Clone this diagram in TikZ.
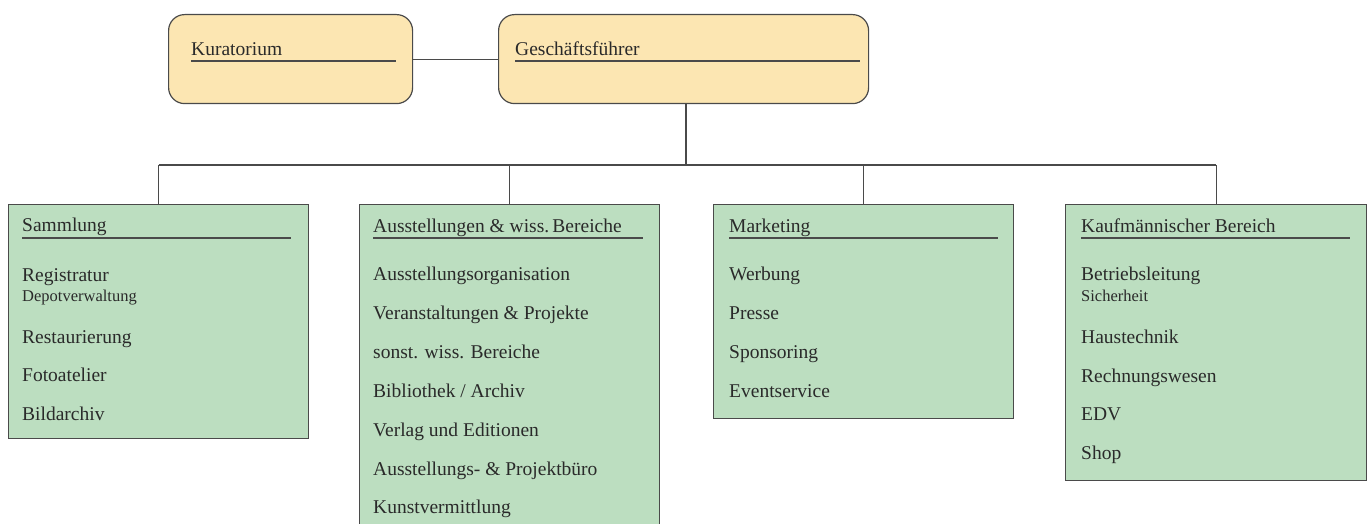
\documentclass[tikz,border=0pt]{standalone}
\usepackage{fontspec}
\setmainfont{Liberation Serif}
\definecolor{yfill}{HTML}{FCE6B2}
\definecolor{gfill}{HTML}{BCDEC0}
\definecolor{linec}{HTML}{4A4A4A}
\definecolor{textc}{HTML}{2A2A2A}
\begin{document}
\begin{tikzpicture}[x=1pt,y=-1pt,
  txt/.style={anchor=base west, inner sep=0pt, text=textc, font=\fontsize{19.5}{22}\selectfont},
  smalltxt/.style={txt, font=\fontsize{16.5}{18}\selectfont},
  ybox/.style={draw=linec, line width=1.2pt, fill=yfill, rounded corners=16pt, anchor=north west, inner sep=0pt},
  gbox/.style={draw=linec, line width=1.2pt, fill=gfill, anchor=north west, inner sep=0pt},
  conn/.style={draw=linec, line width=1.1pt},
  uline/.style={draw=linec, line width=1.1pt}]
\useasboundingbox (0,0) rectangle (1368,524);
% top boxes
\node[ybox, minimum width=244pt, minimum height=89pt] (kur) at (168,14) {};
\node[ybox, minimum width=370pt, minimum height=89pt] (gf) at (498,14) {};
\node[txt] (kurt) at (191,56) {Kuratorium};
\node[txt] (gft) at (515,56) {Geschäftsführer};
\draw[uline] (191,61) -- (396,61);
\draw[uline] (515,61) -- (860,61);
% department boxes
\node[gbox, minimum width=300pt, minimum height=234pt] (b1) at (8,204) {};
\node[gbox, minimum width=300pt, minimum height=340pt] (b2) at (359,204) {};
\node[gbox, minimum width=300pt, minimum height=214pt] (b3) at (713,204) {};
\node[gbox, minimum width=301pt, minimum height=276pt] (b4) at (1065,204) {};
% connectors
\coordinate (bus) at (686,165);
\draw[conn] (kur.east) -- (gf.west);
\draw[conn] (gf.south -| bus) -- (bus);
\draw[conn] (b1.north |- bus) -- (b4.north |- bus);
\draw[conn] (b1.north |- bus) -- (b1.north);
\draw[conn] (b2.north |- bus) -- (b2.north);
\draw[conn] (b3.north |- bus) -- (b3.north);
\draw[conn] (b4.north |- bus) -- (b4.north);
% Sammlung
\node[txt] (t1) at (22,231) {Sammlung};
\draw[uline] (22,238) -- (291,238);
\node[txt] (s1) at (22,281) {Registratur};
\node[smalltxt] (s2) at (22,301) {Depotverwaltung};
\node[txt] (s3) at (22,343) {Restaurierung};
\node[txt] (s4) at (22,381) {Fotoatelier};
\node[txt] (s5) at (22,420) {Bildarchiv};
% Ausstellungen
\node[txt] (t2) at (373,232) {Ausstellungen \& wiss.\,Bereiche};
\draw[uline] (373,238) -- (643,238);
\node[txt] (a1) at (373,280) {Ausstellungsorganisation};
\node[txt] (a2) at (373,319) {Veranstaltungen \& Projekte};
\node[txt] (a3) at (373,358) {sonst. wiss. Bereiche};
\node[txt] (a4) at (373,397) {Bibliothek / Archiv};
\node[txt] (a5) at (373,436) {Verlag und Editionen};
\node[txt] (a6) at (373,475) {Ausstellungs- \& Projektbüro};
\node[txt] (a7) at (373,513) {Kunstvermittlung};
% Marketing
\node[txt] (t3) at (729,232) {Marketing};
\draw[uline] (729,238) -- (998,238);
\node[txt] (m1) at (729,280) {Werbung};
\node[txt] (m2) at (729,319) {Presse};
\node[txt] (m3) at (729,358) {Sponsoring};
\node[txt] (m4) at (729,397) {Eventservice};
% Kaufmaennischer Bereich
\node[txt] (t4) at (1081,232) {Kaufmännischer Bereich};
\draw[uline] (1081,238) -- (1350,238);
\node[txt] (k1) at (1081,280) {Betriebsleitung};
\node[smalltxt] (k2) at (1081,301) {Sicherheit};
\node[txt] (k3) at (1081,343) {Haustechnik};
\node[txt] (k4) at (1081,382) {Rechnungswesen};
\node[txt] (k5) at (1081,420) {EDV};
\node[txt] (k6) at (1081,459) {Shop};
\end{tikzpicture}
\end{document}
